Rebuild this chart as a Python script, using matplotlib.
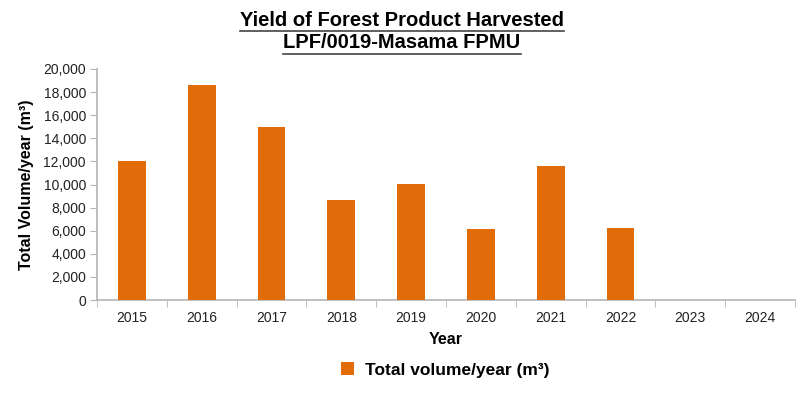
import matplotlib
matplotlib.use("Agg")
import matplotlib.pyplot as plt
from matplotlib.lines import Line2D
import numpy as np

years = ["2015", "2016", "2017", "2018", "2019", "2020", "2021", "2022", "2023", "2024"]
volumes = [12000, 18600, 15000, 8700, 10050, 6150, 11600, 6250, 0, 0]
series_name = "Total volume/year (m³)"
title_lines = ["Yield of Forest Product Harvested", "LPF/0019-Masama FPMU"]
y_ticks = list(range(0, 20001, 2000))

plt.rcParams['font.family'] = ['Liberation Sans', 'DejaVu Sans']

bar_color = '#E36C0A'
axis_color = '#B4B4B4'

fig = plt.figure(figsize=(8.06, 3.96), dpi=100)
ax = fig.add_axes([97/806, 1-300/396, (795-97)/806, (300-69)/396])

x = np.arange(len(years))
ax.bar(x, volumes, width=0.4, color=bar_color, label=series_name, zorder=3)

ax.set_xlim(-0.5, len(years)-0.5)
ax.set_ylim(0, 20000)
ax.set_yticks(y_ticks)
ax.set_yticklabels([f"{v:,}" for v in y_ticks], fontsize=10, color='#222222')
ax.set_xticks(x)
ax.set_xticklabels(years, fontsize=10, color='#222222')
ax.set_xticks(np.arange(-0.5, len(years)), minor=True)
ax.tick_params(axis='x', which='major', length=0, pad=8)
ax.tick_params(axis='x', which='minor', length=5, color=axis_color, direction='out')
ax.tick_params(axis='y', length=5, color=axis_color, direction='out', pad=3)

for s in ['top', 'right']:
    ax.spines[s].set_visible(False)
for s in ['left', 'bottom']:
    ax.spines[s].set_color(axis_color)
    ax.spines[s].set_linewidth(1.2)

ax.set_ylabel("Total Volume/year (m³)", fontsize=11.5, fontweight='bold', labelpad=7)
ax.set_xlabel("Year", fontsize=11.5, fontweight='bold', labelpad=5)

leg = fig.legend(loc='center', bbox_to_anchor=(445/806, 1-370/396), frameon=False,
                 handlelength=0.8, handleheight=0.8, handletextpad=0.6,
                 prop={'weight': 'bold', 'size': 12.5})

t1 = fig.text(402/806, 1-20/396, title_lines[0], ha='center', va='center',
              fontsize=14.5, fontweight='bold')
t2 = fig.text(402/806, 1-43/396, title_lines[1], ha='center', va='center',
              fontsize=14.5, fontweight='bold')

fig.canvas.draw()
r = fig.canvas.get_renderer()
for t in (t1, t2):
    bb = t.get_window_extent(renderer=r)
    y = (bb.y0 - 1) / fig.bbox.height
    fig.add_artist(Line2D([bb.x0 / fig.bbox.width, bb.x1 / fig.bbox.width], [y, y],
                          transform=fig.transFigure, color='#444444', lw=1.2))

fig.savefig("out.png", dpi=100)
